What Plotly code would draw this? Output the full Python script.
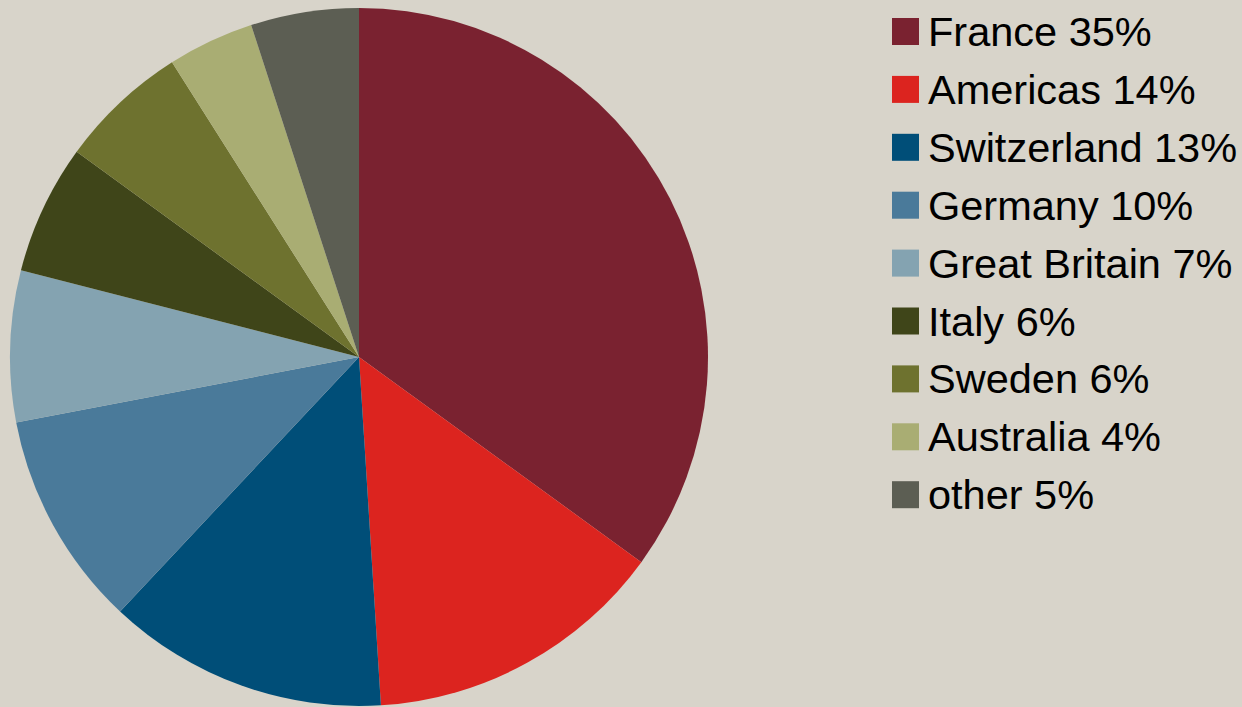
import plotly.graph_objects as go

labels = ["France", "Americas", "Switzerland", "Germany", "Great Britain",
          "Italy", "Sweden", "Australia", "other"]
values = [35, 14, 13, 10, 7, 6, 6, 4, 5]
colors = ["#7A2230", "#DC241F", "#004E78", "#4A7A9A", "#84A3B1",
          "#3F4519", "#6E722F", "#A9AD73", "#5C5E53"]
bg = "#D8D4CA"

W, H = 1242, 707

fig = go.Figure()
fig.add_trace(go.Pie(
    labels=labels, values=values,
    marker=dict(colors=colors, line=dict(width=0)),
    sort=False, direction="clockwise", rotation=0,
    textinfo="none", hoverinfo="label+percent",
    showlegend=False,
    domain=dict(x=[10 / W, 708 / W], y=[1 / H, 699 / H]),
))

# custom legend (large square swatches)
row0, step = 31.5, 57.9
sq = 27
x0 = 892
shapes, annotations = [], []
for i, (lab, val, col) in enumerate(zip(labels, values, colors)):
    cy = row0 + i * step
    shapes.append(dict(type="rect", xref="paper", yref="paper",
                       x0=x0 / W, x1=(x0 + sq) / W,
                       y0=1 - (cy - sq / 2) / H, y1=1 - (cy + sq / 2) / H,
                       fillcolor=col, line=dict(width=0)))
    annotations.append(dict(xref="paper", yref="paper", x=926 / W, y=1 - cy / H,
                            xanchor="left", yanchor="middle", showarrow=False,
                            text=f"{lab} {val}%",
                            font=dict(family="Liberation Sans, Arial", size=41.5, color="#000000")))

fig.update_layout(
    width=W, height=H,
    margin=dict(l=0, r=0, t=0, b=0),
    paper_bgcolor=bg, plot_bgcolor=bg,
    shapes=shapes, annotations=annotations,
)

fig.write_html("out.html")
